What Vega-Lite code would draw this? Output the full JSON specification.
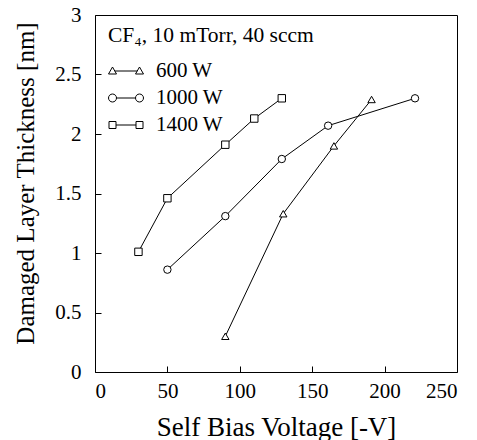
{
  "$schema": "https://vega.github.io/schema/vega-lite/v6.json",
  "width": 362,
  "height": 357,
  "autosize": {"type": "none"},
  "padding": {"left": 95, "top": 15, "right": 20, "bottom": 68},
  "background": "white",
  "config": {
    "view": {"stroke": "black", "strokeWidth": 1},
    "font": "Liberation Serif"
  },
  "data": {
    "values": [
      {"series": "600 W", "v": 90, "t": 0.30},
      {"series": "600 W", "v": 130, "t": 1.33},
      {"series": "600 W", "v": 165, "t": 1.90},
      {"series": "600 W", "v": 191, "t": 2.29},
      {"series": "1000 W", "v": 50, "t": 0.86},
      {"series": "1000 W", "v": 90, "t": 1.31},
      {"series": "1000 W", "v": 129, "t": 1.79},
      {"series": "1000 W", "v": 161, "t": 2.07},
      {"series": "1000 W", "v": 221, "t": 2.30},
      {"series": "1400 W", "v": 30, "t": 1.01},
      {"series": "1400 W", "v": 50, "t": 1.46},
      {"series": "1400 W", "v": 90, "t": 1.91},
      {"series": "1400 W", "v": 110, "t": 2.13},
      {"series": "1400 W", "v": 129, "t": 2.30}
    ]
  },
  "encoding": {
    "x": {
      "field": "v", "type": "quantitative",
      "scale": {"domain": [0, 250], "nice": false},
      "axis": {"values": [0, 50, 100, 150, 200, 250], "format": "d", "labelOverlap": false, "labelBound": false, "grid": false, "domain": false, "offset": -6, "ticks": true, "tickSize": 6, "tickColor": "black", "tickWidth": 1,
        "title": "Self Bias Voltage [-V]", "labelPadding": 8, "titleY": 48,
        "labelFont": "Liberation Serif", "titleFont": "Liberation Serif", "labelFontSize": 21, "titleFontSize": 27, "titleFontWeight": "normal", "labelColor": "black", "titleColor": "black"}
    },
    "y": {
      "field": "t", "type": "quantitative",
      "scale": {"domain": [0, 3], "nice": false},
      "axis": {"values": [0, 0.5, 1, 1.5, 2, 2.5, 3], "format": "~g", "labelOverlap": false, "labelBound": false, "grid": false, "domain": false, "offset": -6, "ticks": true, "tickSize": 6, "tickColor": "black", "tickWidth": 1,
        "title": "Damaged Layer Thickness [nm]", "labelPadding": 14, "titleX": -63, "titleY": 168,
        "labelFont": "Liberation Serif", "titleFont": "Liberation Serif", "labelFontSize": 21, "titleFontSize": 25, "titleFontWeight": "normal", "labelColor": "black", "titleColor": "black"}
    }
  },
  "layer": [
    {
      "mark": {"type": "line", "color": "black", "strokeWidth": 1},
      "encoding": {"detail": {"field": "series"}}
    },
    {
      "mark": {"type": "point", "filled": false, "fill": "white", "stroke": "black", "strokeWidth": 1, "opacity": 1, "fillOpacity": 1},
      "encoding": {
        "shape": {
          "field": "series", "type": "nominal",
          "scale": {"domain": ["600 W", "1000 W", "1400 W"], "range": ["triangle-up", "circle", "square"]},
          "legend": null
        },
        "size": {"value": 55}
      }
    },
    {
      "mark": {"type": "point", "filled": false, "opacity": 0},
      "encoding": {
        "shape": {
          "field": "series", "type": "nominal",
          "scale": {
            "domain": ["600 W", "1000 W", "1400 W"],
            "range": [
              "M-1,0.3 L-0.2,0.3 L-0.6,-0.4 Z M-0.37,0 L1.87,0 M1.7,0.3 L2.5,0.3 L2.1,-0.4 Z",
              "M-0.2,0 A0.4,0.4 0 1,1 -1,0 A0.4,0.4 0 1,1 -0.2,0 Z M-0.2,0 L1.7,0 M2.5,0 A0.4,0.4 0 1,1 1.7,0 A0.4,0.4 0 1,1 2.5,0 Z",
              "M-0.95,-0.35 H-0.25 V0.35 H-0.95 Z M-0.25,0 H1.75 M1.75,-0.35 H2.45 V0.35 H1.75 Z"
            ]
          },
          "legend": {
            "title": "CF₄, 10 mTorr, 40 sccm",
            "orient": "none",
            "legendX": 13,
            "legendY": 10,
            "padding": 0,
            "titleLimit": 400,
            "labelLimit": 300,
            "titleFont": "Liberation Serif",
            "titleFontSize": 21.5,
            "titleFontWeight": "normal",
            "titleColor": "black",
            "titlePadding": 14,
            "labelFont": "Liberation Serif",
            "labelFontSize": 21,
            "labelColor": "black",
            "labelOffset": 27,
            "symbolSize": 400,
            "symbolOpacity": 1,
            "symbolFillColor": "white",
            "symbolStrokeColor": "black",
            "symbolStrokeWidth": 1,
            "rowPadding": 5
          }
        }
      }
    }
  ],
  "resolve": {"scale": {"shape": "independent"}, "legend": {"shape": "independent"}}
}
